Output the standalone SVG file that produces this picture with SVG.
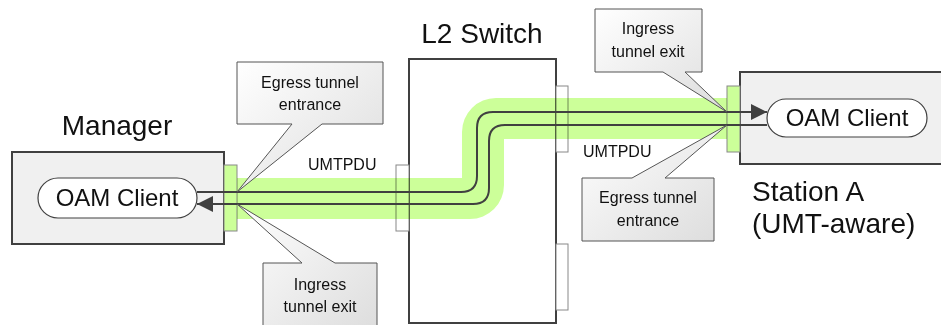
<svg xmlns="http://www.w3.org/2000/svg" width="941" height="325" viewBox="0 0 941 325">
<style>
.title{font-family:"Liberation Sans",Arial,sans-serif;font-size:28px;fill:#111}
.oam{font-family:"Liberation Sans",Arial,sans-serif;font-size:24px;fill:#111;text-anchor:middle}
.co{font-family:"Liberation Sans",Arial,sans-serif;font-size:16px;fill:#111;text-anchor:middle}
.lbl{font-family:"Liberation Sans",Arial,sans-serif;font-size:16px;fill:#111}
.box{fill:#f0f0f0;stroke:#404040;stroke-width:2}
.sw{fill:#ffffff;stroke:#404040;stroke-width:2}
.pill{fill:#ffffff;stroke:#404040;stroke-width:1.2}
.gport{fill:#ccff99;stroke:#888;stroke-width:1}
.wport{fill:#ffffff;stroke:#888;stroke-width:1}
.band{fill:#ccff99;mix-blend-mode:multiply}
.line{fill:none;stroke:#404040;stroke-width:2}
.callout{fill:url(#cg);stroke:#555;stroke-width:1}
</style>
<defs>
<linearGradient id="cg" x1="0" y1="0" x2="1" y2="1">
<stop offset="0" stop-color="#ffffff"/>
<stop offset="1" stop-color="#dcdcdc"/>
</linearGradient>
<marker id="ah" markerUnits="userSpaceOnUse" markerWidth="16" markerHeight="16" refX="16" refY="8" orient="auto">
<path d="M0,0 L16,8 L0,16 z" fill="#404040"/>
</marker>
</defs>

<g id="manager">
<text class="title" x="117" y="135" text-anchor="middle">Manager</text>
<rect class="box" x="12" y="152" width="212" height="92"/>
<rect class="gport" x="224" y="165" width="13" height="66"/>
<rect class="pill" x="38" y="178" width="159" height="40" rx="20"/>
<text class="oam" x="117" y="206">OAM Client</text>
</g>

<g id="l2switch">
<text class="title" x="482" y="43" text-anchor="middle">L2 Switch</text>
<rect class="sw" x="409" y="59" width="147" height="264"/>
<rect class="wport" x="396" y="165" width="13" height="66"/>
<rect class="wport" x="556" y="86" width="12" height="66"/>
<rect class="wport" x="556" y="244" width="12" height="66"/>
</g>

<g id="stationA">
<rect class="box" x="740" y="72" width="220" height="92"/>
<rect class="gport" x="727" y="86" width="13" height="66"/>
<rect class="pill" x="767" y="99" width="160" height="38" rx="19"/>
<text class="oam" x="847" y="126">OAM Client</text>
<text class="title" x="752" y="201">Station A</text>
<text class="title" x="752" y="233">(UMT-aware)</text>
</g>

<g id="connectors">
<path class="band" d="M237,178 H462 V132 A34,34 0 0 1 496,98 H727 V139 H504 V185 A34,34 0 0 1 470,219 H237 Z"/>
<path class="line" d="M197,192 H461 Q477,192 477,176 V128 Q477,112 493,112 H767" marker-end="url(#ah)"/>
<path class="line" d="M767,125 H505 Q489,125 489,141 V188 Q489,204 473,204 H197" marker-end="url(#ah)"/>
<text class="lbl" x="308" y="170">UMTPDU</text>
<text class="lbl" x="583" y="157">UMTPDU</text>
</g>

<g id="callout-egress-left">
<path class="callout" d="M237,62 H383 V124 H322 L237,192 L292,124 H237 Z"/>
<text class="co" x="310" y="88">Egress tunnel</text>
<text class="co" x="310" y="110">entrance</text>
</g>

<g id="callout-ingress-left">
<path class="callout" d="M263,263 H302 L237,204 L335,263 H377 V340 H263 Z"/>
<text class="co" x="320" y="290">Ingress</text>
<text class="co" x="320" y="312">tunnel exit</text>
</g>

<g id="callout-ingress-right">
<path class="callout" d="M595,9 H702 V72 H685 L727,112 L663,72 H595 Z"/>
<text class="co" x="648" y="34">Ingress</text>
<text class="co" x="648" y="57">tunnel exit</text>
</g>

<g id="callout-egress-right">
<path class="callout" d="M582,178 H632 L727,125 L665,178 H714 V241 H582 Z"/>
<text class="co" x="648" y="203">Egress tunnel</text>
<text class="co" x="648" y="226">entrance</text>
</g>
</svg>
